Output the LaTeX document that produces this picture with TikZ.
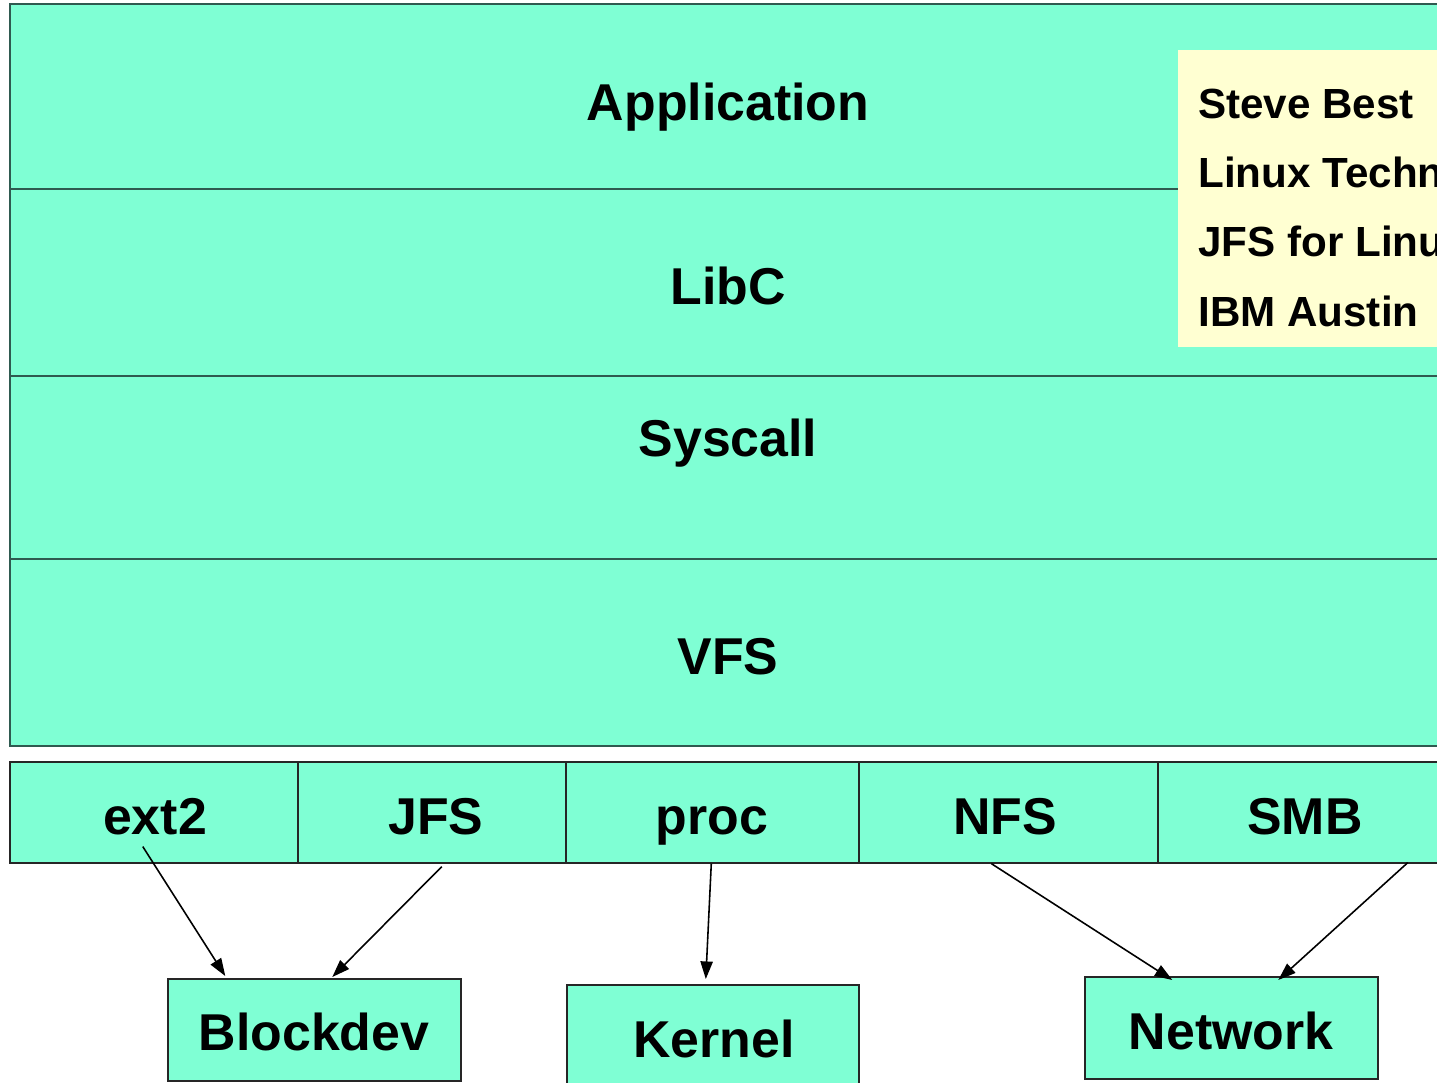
\documentclass[tikz,border=0pt]{standalone}
\usepackage{fontspec}
\setmainfont{Liberation Sans}
\usetikzlibrary{calc,arrows.meta}
\definecolor{aqua}{HTML}{7FFFD4}
\definecolor{notefill}{HTML}{FFFFD2}
\definecolor{rulecol}{HTML}{2F5A50}
\begin{document}
\begin{tikzpicture}[x=0.02cm,y=-0.02cm,
  band/.style={draw=rulecol,line width=0.9pt,fill=aqua,rectangle,inner sep=0pt,anchor=north west},
  fsbox/.style={draw=black!85,line width=0.9pt,fill=aqua,rectangle,inner sep=0pt,anchor=north west},
  bigtxt/.style={font=\fontsize{29.5}{36}\selectfont\bfseries,inner sep=0pt,anchor=base},
  notetxt/.style={font=\fontsize{24}{28}\selectfont\bfseries,inner sep=0pt,anchor=base west},
  link/.style={draw=black,line width=0.9pt,-{Triangle[length=10pt,width=7pt]}}]
\useasboundingbox (0,0) rectangle (1437,1082);
\fill[white] (0,0) rectangle (1437,1082);
\clip (0,0) rectangle (1437,1082);

% layered stack
\node[band,minimum width=1436*0.02cm,minimum height=185*0.02cm] (appb) at (9,3) {};
\node[band,minimum width=1436*0.02cm,minimum height=187*0.02cm] (libb) at (9,188) {};
\node[band,minimum width=1436*0.02cm,minimum height=183*0.02cm] (sysb) at (9,375) {};
\node[band,minimum width=1436*0.02cm,minimum height=187*0.02cm] (vfsb) at (9,558) {};

\node[bigtxt] (apptxt) at (728,120) {Application};
\node[bigtxt] (libtxt) at (728,304) {LibC};
\node[bigtxt] (systxt) at (728,456) {Syscall};
\node[bigtxt] (vfstxt) at (728,674) {VFS};

% author note, running off the right edge
\node[rectangle,fill=notefill,inner sep=0pt,anchor=north west,
      minimum width=270*0.02cm,minimum height=297*0.02cm] (note) at (1178,50) {};
\node[notetxt] (n1) at (1198,118) {Steve Best};
\node[notetxt] (n2) at (1198,187) {Linux Technology Center};
\node[notetxt] (n3) at (1198,256) {JFS for Linux};
\node[notetxt] (n4) at (1198,326) {IBM Austin};

% file systems
\node[fsbox,minimum width=288*0.02cm,minimum height=101*0.02cm] (ext2) at (9,761) {};
\node[fsbox,minimum width=268*0.02cm,minimum height=101*0.02cm] (jfs) at (297,761) {};
\node[fsbox,minimum width=293*0.02cm,minimum height=101*0.02cm] (proc) at (565,761) {};
\node[fsbox,minimum width=299*0.02cm,minimum height=101*0.02cm] (nfs) at (858,761) {};
\node[fsbox,minimum width=290*0.02cm,minimum height=101*0.02cm] (smb) at (1157,761) {};

\node[bigtxt] (ext2t) at (155,834) {ext2};
\node[bigtxt] (jfst) at (436,834) {JFS};
\node[bigtxt] (proct) at (712,834) {proc};
\node[bigtxt] (nfst) at (1005,834) {NFS};
\node[bigtxt] (smbt) at (1305,834) {SMB};

% backends
\node[fsbox,minimum width=293*0.02cm,minimum height=102*0.02cm] (blk) at (167,978) {};
\node[fsbox,minimum width=292*0.02cm,minimum height=110*0.02cm] (kern) at (566,984) {};
\node[fsbox,minimum width=293*0.02cm,minimum height=102*0.02cm] (net) at (1084,976) {};

\node[bigtxt] (blkt) at (314,1050) {Blockdev};
\node[bigtxt] (kernt) at (714,1057) {Kernel};
\node[bigtxt] (nett) at (1231,1049) {Network};

% connectors
\draw[link] ($(ext2.south)+(-11,-17)$) -- ($(blk.north)+(-89,-2)$);
\draw[link] ($(jfs.south)+(10,3)$) -- ($(blk.north)+(18,-1)$);
\draw[link] ($(proc.south)+(-1,0)$) -- ($(kern.north)+(-7,-5)$);
\draw[link] ($(nfs.south)+(-17,0)$) -- ($(net.north)+(-59,4)$);
\draw[link] ($(smb.south)+(105,-1)$) -- ($(net.north)+(47,4)$);
\end{tikzpicture}
\end{document}
